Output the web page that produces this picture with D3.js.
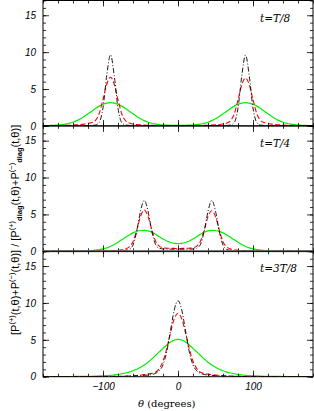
<!DOCTYPE html>
<html><head><meta charset="utf-8">
<script src="https://cdn.jsdelivr.net/npm/d3@7"></script>
<style>html,body{margin:0;padding:0;background:#fff}svg{display:block}</style>
</head><body>
<script>
// ---------- data ----------
const theta = d3.range(-180, 181, 5);
const panelLabels = ["t=T/8", "t=T/4", "t=3T/8"];
const xMajorTicks = [-100, 0, 100];
const xTickLabels = ["\u2212100", "0", "100"];
const xMinorTicks = d3.range(-180, 181, 20);
const yMajorTicks = [0, 5, 10, 15];
const yMinorTicks = d3.range(0, 18, 1);

// panel 1 (t=T/8)
const p1Black = [0.02,0.02,0.02,0.02,0.02,0.02,0.02,0.02,0.02,0.02,0.02,0.03,0.04,0.06,0.12,0.48,2.45,6.85,9.65,6.8,2.4,0.45,0.12,0.06,0.04,0.03,0.03,0.02,0.02,0.02,0.02,0.02,0.02,0.02,0.02,0.02,0.02,
  0.02,0.02,0.02,0.02,0.02,0.02,0.02,0.02,0.02,0.03,0.03,0.04,0.06,0.12,0.46,2.4,6.75,9.6,6.8,2.42,0.47,0.12,0.06,0.04,0.03,0.02,0.02,0.02,0.02,0.02,0.02,0.02,0.02,0.02,0.02,0.02];
const p1Red = [0.03,0.03,0.04,0.04,0.05,0.06,0.07,0.09,0.11,0.14,0.18,0.24,0.32,0.45,0.75,1.7,3.6,5.65,6.6,5.65,3.55,1.65,0.7,0.38,0.25,0.18,0.14,0.11,0.09,0.07,0.06,0.05,0.05,0.04,0.04,0.04,0.04,
  0.04,0.04,0.04,0.05,0.05,0.06,0.07,0.09,0.11,0.14,0.18,0.25,0.38,0.7,1.62,3.5,5.55,6.5,5.6,3.55,1.68,0.74,0.45,0.32,0.24,0.18,0.14,0.11,0.09,0.07,0.06,0.05,0.04,0.04,0.03,0.03];
const p1Green = [0.03,0.045,0.06,0.09,0.12,0.17,0.25,0.36,0.50,0.72,0.98,1.29,1.64,1.98,2.36,2.68,2.93,3.09,3.15,3.09,2.93,2.68,2.36,1.98,1.64,1.29,0.98,0.72,0.50,0.36,0.25,0.17,0.12,0.10,0.08,0.07,0.06,
  0.07,0.08,0.10,0.12,0.17,0.25,0.36,0.50,0.72,0.98,1.29,1.64,1.98,2.36,2.68,2.93,3.09,3.15,3.09,2.93,2.68,2.36,1.98,1.64,1.29,0.98,0.72,0.50,0.36,0.25,0.17,0.12,0.09,0.06,0.045,0.03];

// panel 2 (t=T/4)
const p2Black = [0.01,0.01,0.01,0.01,0.01,0.01,0.01,0.01,0.01,0.01,0.01,0.01,0.02,0.02,0.02,0.03,0.03,0.04,0.05,0.06,0.07,0.09,0.13,0.25,0.85,2.7,5.45,6.9,5.45,2.75,0.95,0.42,0.32,0.3,0.29,0.28,0.28,
  0.28,0.29,0.3,0.32,0.42,0.95,2.75,5.4,6.9,5.45,2.7,0.85,0.25,0.13,0.09,0.07,0.06,0.05,0.04,0.03,0.03,0.02,0.02,0.02,0.01,0.01,0.01,0.01,0.01,0.01,0.01,0.01,0.01,0.01,0.01,0.01];
const p2Red = [0.01,0.01,0.01,0.01,0.015,0.015,0.02,0.02,0.02,0.025,0.025,0.03,0.03,0.035,0.04,0.05,0.06,0.07,0.09,0.11,0.14,0.2,0.32,0.6,1.3,2.9,4.7,5.6,4.75,2.95,1.4,0.7,0.48,0.42,0.4,0.39,0.38,
  0.39,0.4,0.42,0.48,0.7,1.38,2.9,4.7,5.5,4.7,2.9,1.3,0.6,0.32,0.2,0.14,0.11,0.09,0.07,0.06,0.05,0.04,0.035,0.03,0.03,0.025,0.025,0.02,0.02,0.02,0.015,0.015,0.01,0.01,0.01,0.01];
const p2Green = [0.01,0.01,0.012,0.014,0.016,0.018,0.02,0.022,0.025,0.03,0.035,0.05,0.07,0.1,0.15,0.22,0.32,0.46,0.66,0.92,1.22,1.55,1.9,2.22,2.5,2.7,2.82,2.85,2.78,2.6,2.32,1.98,1.66,1.4,1.2,1.08,1.04,
  1.08,1.2,1.4,1.66,1.98,2.32,2.6,2.78,2.85,2.82,2.7,2.5,2.22,1.9,1.55,1.22,0.92,0.66,0.46,0.32,0.22,0.15,0.1,0.07,0.05,0.035,0.03,0.025,0.022,0.02,0.018,0.016,0.014,0.012,0.01,0.01];

// panel 3 (t=3T/8)
const p3Black = [0.01,0.01,0.01,0.01,0.01,0.01,0.01,0.01,0.01,0.01,0.01,0.01,0.01,0.01,0.015,0.02,0.02,0.025,0.03,0.035,0.04,0.05,0.06,0.08,0.1,0.12,0.15,0.18,0.22,0.3,0.45,0.8,1.6,3.4,6.25,9.05,10.3,
  9.05,6.25,3.4,1.6,0.8,0.45,0.3,0.22,0.18,0.15,0.12,0.1,0.08,0.06,0.05,0.04,0.035,0.03,0.025,0.02,0.02,0.015,0.01,0.01,0.01,0.01,0.01,0.01,0.01,0.01,0.01,0.01,0.01,0.01,0.01,0.01];
const p3Red = [0.01,0.01,0.01,0.01,0.01,0.012,0.012,0.014,0.014,0.016,0.016,0.018,0.018,0.02,0.02,0.02,0.025,0.03,0.035,0.04,0.05,0.06,0.08,0.1,0.13,0.17,0.22,0.28,0.35,0.45,0.6,1.1,2.1,3.8,5.95,7.85,8.6,
  7.85,5.95,3.8,2.1,1.1,0.6,0.45,0.35,0.28,0.22,0.17,0.13,0.1,0.08,0.06,0.05,0.04,0.035,0.03,0.025,0.02,0.02,0.02,0.018,0.018,0.016,0.016,0.014,0.014,0.012,0.012,0.01,0.01,0.01,0.01,0.01];
const p3Green = [0.02,0.02,0.02,0.02,0.02,0.025,0.025,0.03,0.03,0.035,0.04,0.045,0.05,0.06,0.08,0.1,0.12,0.15,0.18,0.24,0.31,0.4,0.5,0.63,0.8,1.0,1.28,1.6,1.95,2.4,2.88,3.36,3.84,4.3,4.7,4.97,5.07,
  4.97,4.7,4.3,3.84,3.36,2.88,2.4,1.95,1.6,1.28,1.0,0.8,0.63,0.5,0.4,0.31,0.24,0.18,0.15,0.12,0.1,0.08,0.06,0.05,0.045,0.04,0.035,0.03,0.03,0.025,0.025,0.02,0.02,0.02,0.02,0.02];

const panelSeries = [
  {green: p1Green, red: p1Red, black: p1Black},
  {green: p2Green, red: p2Red, black: p2Black},
  {green: p3Green, red: p3Red, black: p3Black}
];

// ---------- layout ----------
const W = 314, H = 411;
const left = 43, right = 313;
const firstTop = 0.5, panelH = 125.4;
const yMax = 17;

const svg = d3.select("body").append("svg").attr("width", W).attr("height", H);
const x = d3.scaleLinear().domain([-180, 180]).range([left, right]);

const tickFont = "'Liberation Sans', Arial, sans-serif";

panelSeries.forEach((ps, i) => {
  const top = firstTop + i * panelH;
  const bottom = top + panelH;
  const y = d3.scaleLinear().domain([0, yMax]).range([bottom, top]);
  const g = svg.append("g");

  const clipId = "clip" + i;
  svg.append("clipPath").attr("id", clipId).append("rect")
    .attr("x", left).attr("y", top).attr("width", right - left).attr("height", panelH);

  const lines = g.append("g").attr("clip-path", `url(#${clipId})`);
  const line = d3.line().x((d, k) => x(theta[k])).y(d => y(d)).curve(d3.curveMonotoneX);

  lines.append("path").attr("d", line(ps.green)).attr("fill", "none")
    .attr("stroke", "#00ee00").attr("stroke-width", 1.2);
  lines.append("path").attr("d", line(ps.red)).attr("fill", "none")
    .attr("stroke", "#ff0000").attr("stroke-width", 1.1).attr("stroke-dasharray", "5,2.5");
  lines.append("path").attr("d", line(ps.black)).attr("fill", "none")
    .attr("stroke", "#000").attr("stroke-width", 0.9).attr("stroke-dasharray", "5,2,1,2");

  const axB = g.append("g").attr("transform", `translate(0,${bottom})`)
    .call(d3.axisBottom(x).tickValues(xMinorTicks).tickSizeInner(-3).tickSizeOuter(0).tickFormat(""));
  const axBM = g.append("g").attr("transform", `translate(0,${bottom})`)
    .call(d3.axisBottom(x).tickValues(xMajorTicks).tickSizeInner(-6).tickSizeOuter(0)
      .tickPadding(6).tickFormat((d, k) => i === 2 ? xTickLabels[k] : ""));
  const axT = g.append("g").attr("transform", `translate(0,${top})`)
    .call(d3.axisTop(x).tickValues(xMinorTicks).tickSizeInner(-3).tickSizeOuter(0).tickFormat(""));
  const axTM = g.append("g").attr("transform", `translate(0,${top})`)
    .call(d3.axisTop(x).tickValues(xMajorTicks).tickSizeInner(-6).tickSizeOuter(0).tickFormat(""));
  const axL = g.append("g").attr("transform", `translate(${left},0)`)
    .call(d3.axisLeft(y).tickValues(yMinorTicks).tickSizeInner(-3).tickSizeOuter(0).tickFormat(""));
  const axLM = g.append("g").attr("transform", `translate(${left},0)`)
    .call(d3.axisLeft(y).tickValues(yMajorTicks).tickSizeInner(-6).tickSizeOuter(0).tickPadding(7));
  const axR = g.append("g").attr("transform", `translate(${right},0)`)
    .call(d3.axisRight(y).tickValues(yMinorTicks).tickSizeInner(-3).tickSizeOuter(0).tickFormat(""));
  const axRM = g.append("g").attr("transform", `translate(${right},0)`)
    .call(d3.axisRight(y).tickValues(yMajorTicks).tickSizeInner(-6).tickSizeOuter(0).tickFormat(""));

  [axB, axBM, axT, axTM, axL, axLM, axR, axRM].forEach(a => {
    a.select(".domain").remove();
    a.selectAll("line").attr("stroke", "#000").attr("stroke-width", 0.8);
    a.selectAll("text").attr("font-family", tickFont).attr("font-style", "italic")
      .attr("font-size", 10).attr("fill", "#000");
  });

  g.append("rect").attr("x", left).attr("y", top).attr("width", right - left).attr("height", panelH)
    .attr("fill", "none").attr("stroke", "#000").attr("stroke-width", 1);
  if (i === 1) {
    g.append("line").attr("x1", left).attr("x2", right).attr("y1", bottom).attr("y2", bottom)
      .attr("stroke", "#8a8a8a").attr("stroke-width", 2);
  }

  g.append("text").attr("x", 260).attr("y", top + 21)
    .attr("font-family", "'DejaVu Serif', serif").attr("font-style", "italic")
    .attr("font-size", 10.5).attr("fill", "#000").text(panelLabels[i]);
});

// x label
const xl = svg.append("text").attr("x", 138).attr("y", 407)
  .attr("font-family", "'DejaVu Serif', serif").attr("font-size", 10).attr("fill", "#000");
xl.append("tspan").attr("font-style", "italic").text("\u03b8");
xl.append("tspan").text(" (degrees)");

// y label
const yl = svg.append("text").attr("transform", "translate(18.5,335) rotate(-90)")
  .attr("text-anchor", "start").attr("font-family", tickFont).attr("font-size", 11).attr("fill", "#000");
const parts = [
  ["[P", 0], ["(+)", 1], ["(t,\u03b8)+P", 0], ["(\u2212)", 1], ["(t,\u03b8)] / [P", 0],
  ["(+)", 1], ["diag", -1], ["(t,\u03b8)+P", 0], ["(\u2212)", 1], ["diag", -1], ["(t,\u03b8)]", 0]
];
let prev = 0;
parts.forEach(([t, s]) => {
  const off = s === 1 ? -4.5 : s === -1 ? 3.5 : 0;
  yl.append("tspan").attr("dy", off - prev).attr("font-size", s === 0 ? 11 : 7.5)
    .attr("font-weight", s === -1 ? "bold" : null).text(t);
  prev = off;
});
</script>
</body></html>
